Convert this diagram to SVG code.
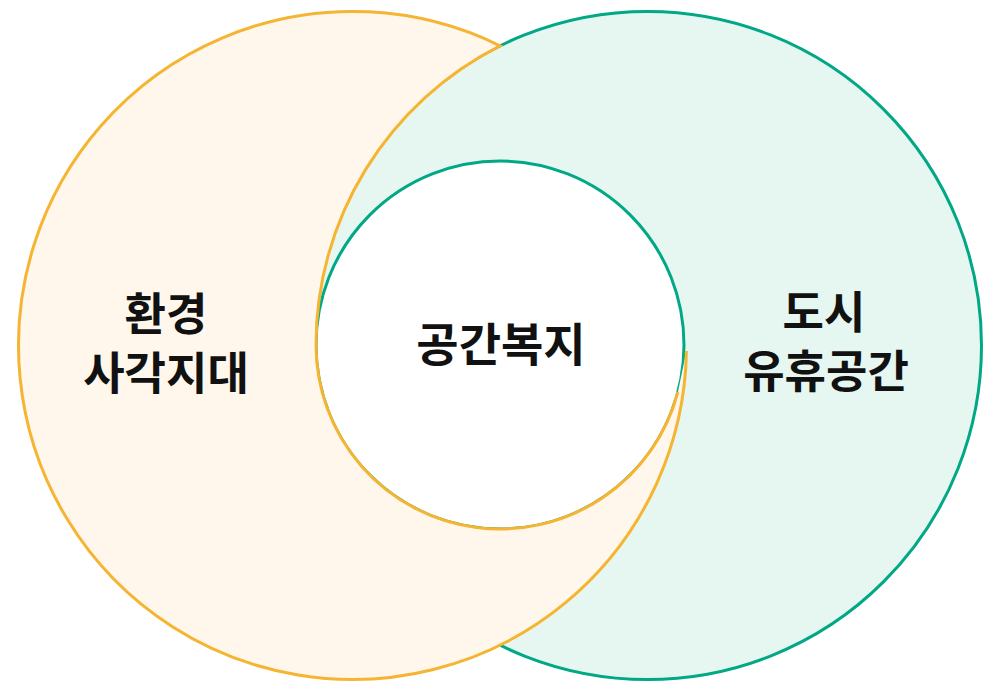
<svg xmlns="http://www.w3.org/2000/svg" width="1000" height="693" viewBox="0 0 1000 693">
  <style>
    .lbl { font-family: "Noto Sans CJK KR", "Noto Sans", sans-serif; font-weight: 700; font-size: 45px; fill: #111111; text-anchor: middle; }
    .big { font-size: 46px; }
    .teal { stroke: #00A886; stroke-width: 3; }
    .orange { stroke: #F5B431; stroke-width: 3; stroke-linecap: butt; stroke-linejoin: miter; }
  </style>
  <rect x="0" y="0" width="1000" height="693" fill="#FFFFFF"/>
  <g id="node-urban">
    <circle cx="647.5" cy="345.5" r="334" fill="#E6F6F1" class="teal"/>
  </g>
  <g id="node-welfare">
    <circle cx="500" cy="345" r="184" fill="#FFFFFF" class="teal"/>
  </g>
  <g id="node-env">
    <path d="M 686.45 351 A 334 334 0 1 1 500 45.8 A 335.3 335.3 0 0 0 316 345 A 184 184 0 0 0 677.9 392" fill="#FFF7EB" class="orange"/>
  </g>
  <g id="labels">
    <text class="lbl" x="166" y="331">환경</text>
    <text class="lbl" x="166" y="390">사각지대</text>
    <text class="lbl big" x="501" y="361">공간복지</text>
    <text class="lbl" x="824" y="329">도시</text>
    <text class="lbl" x="826" y="388">유휴공간</text>
  </g>
  <g id="connectors"></g>
</svg>
